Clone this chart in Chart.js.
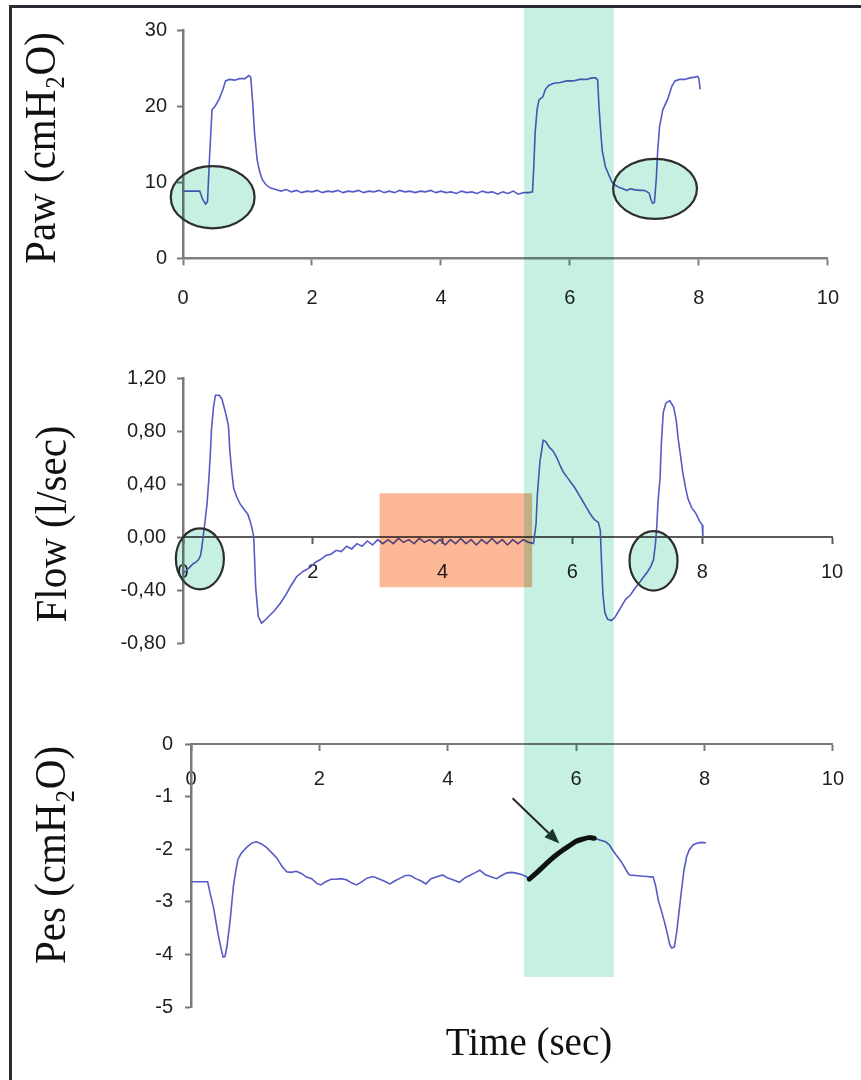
<!DOCTYPE html>
<html>
<head>
<meta charset="utf-8">
<title>Paw, Flow and Pes traces</title>
<script src="https://cdn.jsdelivr.net/npm/chart.js@4.4.1/dist/chart.umd.min.js"></script>
<style>
  html, body { margin: 0; padding: 0; background: #fff; }
  #page { position: relative; width: 861px; height: 1080px; overflow: hidden; background: #fff; }
  #page canvas { position: absolute; left: 0; top: 0; }
  #frame { position: absolute; left: 9px; top: 5px; right: -10px; bottom: -10px;
           border-left: 3px solid #2b2a36; border-top: 3px solid #2b2a36; }
</style>
</head>
<body>
<div id="page">
  <div id="frame"></div>
  <canvas id="pawChart" width="861" height="1080"></canvas>
  <canvas id="flowChart" width="861" height="1080"></canvas>
  <canvas id="pesChart" width="861" height="1080"></canvas>
</div>
<script>
// ---- tick values ----
const timeTicks = [0, 2, 4, 6, 8, 10];
const pawTicks = [0, 10, 20, 30];
const flowTicks = [-0.8, -0.4, 0, 0.4, 0.8, 1.2];
const pesTicks = [-5, -4, -3, -2, -1, 0];

// ---- airway pressure (cmH2O) ----
const pawTime = [
  0, 0.1, 0.2, 0.26, 0.3, 0.35, 0.38, 0.41, 0.45, 0.5,
  0.56, 0.62, 0.66, 0.72, 0.8, 0.88, 0.96, 1.02, 1.05, 1.08,
  1.11, 1.15, 1.19, 1.23, 1.29, 1.36, 1.44, 1.52, 1.6, 1.68,
  1.76, 1.84, 1.92, 2.0, 2.08, 2.16, 2.24, 2.32, 2.4, 2.48,
  2.56, 2.64, 2.72, 2.8, 2.88, 2.96, 3.04, 3.12, 3.2, 3.28,
  3.36, 3.44, 3.52, 3.6, 3.68, 3.76, 3.84, 3.92, 4.0, 4.08,
  4.16, 4.24, 4.32, 4.4, 4.48, 4.56, 4.64, 4.72, 4.8, 4.88,
  4.96, 5.04, 5.12, 5.2, 5.28, 5.36, 5.42, 5.44, 5.46, 5.49,
  5.52, 5.58, 5.62, 5.67, 5.75, 5.85, 5.95, 6.05, 6.15, 6.26,
  6.34, 6.4, 6.43, 6.45, 6.47, 6.5, 6.55, 6.6, 6.65, 6.7,
  6.76, 6.82, 6.88, 6.94, 7.0, 7.08, 7.15, 7.2, 7.23, 7.26,
  7.28, 7.31, 7.34, 7.36, 7.39, 7.44, 7.52, 7.58, 7.63, 7.7,
  7.78, 7.86, 7.94, 7.98, 8.0, 8.02
];
const pawValues = [
  8.8, 8.8, 8.8, 8.8, 7.8, 7.1, 7.4, 13.0, 19.5, 20.0,
  20.9, 22.2, 23.3, 23.5, 23.4, 23.6, 23.6, 24.0, 23.8, 20.5,
  16.4, 12.9, 11.3, 10.3, 9.6, 9.2, 9.0, 8.8, 9.0, 8.7,
  8.9, 8.6, 8.8, 8.7, 8.9, 8.6, 8.8, 8.7, 8.9, 8.6,
  8.8, 8.7, 8.9, 8.6, 8.8, 8.7, 8.9, 8.6, 8.8, 8.6,
  8.9, 8.7, 8.8, 8.6, 8.8, 8.7, 8.9, 8.6, 8.8, 8.6,
  8.7, 8.5, 8.8, 8.6, 8.7, 8.5, 8.8, 8.6, 8.7, 8.4,
  8.7, 8.5, 8.8, 8.4, 8.6, 8.6, 8.7, 12.0, 16.4, 19.5,
  20.8, 21.2, 22.2, 22.7, 23.0, 23.1, 23.3, 23.3, 23.5, 23.5,
  23.7, 23.7, 23.4, 20.0, 17.5, 14.2, 12.0, 11.0, 10.0, 9.6,
  9.3, 9.1, 8.9, 9.1, 9.0, 8.9, 8.9, 8.7, 8.5, 7.6,
  7.2, 7.3, 10.5, 14.0, 17.3, 19.5, 21.0, 22.6, 23.3, 23.5,
  23.5, 23.7, 23.8, 23.9, 23.6, 22.2
];

// ---- flow (l/sec) ----
const flowTime = [
  0, 0.04, 0.08, 0.12, 0.16, 0.2, 0.24, 0.27, 0.29, 0.31,
  0.34, 0.37, 0.4, 0.42, 0.44, 0.47, 0.5, 0.56, 0.6, 0.66,
  0.7, 0.72, 0.75, 0.78, 0.83, 0.88, 0.94, 1.0, 1.04, 1.07,
  1.09, 1.12, 1.16, 1.21, 1.26, 1.32, 1.4, 1.5, 1.58, 1.66,
  1.75, 1.85, 1.96, 2.04, 2.12, 2.2, 2.28, 2.36, 2.44, 2.52,
  2.6, 2.68, 2.76, 2.84, 2.92, 3.0, 3.08, 3.16, 3.24, 3.32,
  3.4, 3.48, 3.56, 3.64, 3.72, 3.8, 3.88, 3.96, 4.04, 4.12,
  4.2, 4.28, 4.36, 4.44, 4.52, 4.6, 4.68, 4.76, 4.84, 4.92,
  5.0, 5.08, 5.16, 5.24, 5.32, 5.4, 5.44, 5.46, 5.5, 5.55,
  5.59, 5.64, 5.7, 5.76, 5.81, 5.86, 5.92, 5.98, 6.04, 6.1,
  6.16, 6.22, 6.28, 6.34, 6.4, 6.43, 6.45, 6.47, 6.5, 6.54,
  6.6, 6.65, 6.7, 6.76, 6.82, 6.89, 6.96, 7.04, 7.1, 7.16,
  7.21, 7.25, 7.28, 7.3, 7.32, 7.35, 7.37, 7.4, 7.44, 7.5,
  7.56, 7.6, 7.63, 7.67, 7.7, 7.74, 7.78, 7.84, 7.9, 7.96,
  8.0, 8.01
];
const flowValues = [
  -0.27, -0.26, -0.24, -0.22, -0.2, -0.19, -0.17, -0.14, -0.08, 0.0,
  0.12, 0.25, 0.45, 0.62, 0.82, 0.98, 1.07, 1.07, 1.04, 0.93,
  0.84, 0.66, 0.5, 0.37, 0.3, 0.25, 0.21, 0.17, 0.11, 0.05,
  0.0, -0.38, -0.6, -0.65, -0.63, -0.6, -0.56, -0.5, -0.44, -0.37,
  -0.3, -0.26, -0.23, -0.19, -0.17, -0.14, -0.13, -0.1, -0.11, -0.07,
  -0.09, -0.05, -0.07, -0.03, -0.06, -0.02, -0.05, -0.02, -0.05, -0.01,
  -0.04, -0.02, -0.05, -0.01, -0.04, -0.02, -0.05, -0.02, -0.06, -0.02,
  -0.05, -0.01, -0.05, -0.02, -0.06, -0.02, -0.05, -0.01, -0.05, -0.02,
  -0.06, -0.02, -0.05, -0.02, -0.04, -0.05, 0.1, 0.32, 0.57, 0.73,
  0.72, 0.68, 0.65, 0.6, 0.54, 0.49, 0.45, 0.41, 0.37, 0.32,
  0.27, 0.22, 0.17, 0.13, 0.11, 0.05, -0.2, -0.43, -0.57, -0.62,
  -0.63, -0.61, -0.57, -0.52, -0.47, -0.44, -0.39, -0.34, -0.3, -0.26,
  -0.22, -0.17, -0.05, 0.08, 0.27, 0.44, 0.7, 0.94, 1.01, 1.03,
  0.98, 0.88, 0.74, 0.6, 0.49, 0.38, 0.29, 0.22, 0.18, 0.12,
  0.09, 0.0
];

// ---- oesophageal pressure (cmH2O) ----
const pesTime = [
  0, 0.1, 0.2, 0.26, 0.3, 0.35, 0.42, 0.47, 0.5, 0.53,
  0.56, 0.61, 0.66, 0.7, 0.73, 0.78, 0.87, 0.95, 1.02, 1.1,
  1.18, 1.26, 1.34, 1.42, 1.49, 1.56, 1.64, 1.72, 1.8, 1.88,
  1.96, 2.02, 2.1, 2.18, 2.26, 2.34, 2.42, 2.5, 2.58, 2.66,
  2.74, 2.84, 2.92, 3.0, 3.1, 3.18, 3.26, 3.34, 3.42, 3.5,
  3.58, 3.66, 3.74, 3.82, 3.92, 4.0, 4.08, 4.18, 4.26, 4.34,
  4.42, 4.5, 4.58, 4.66, 4.76, 4.84, 4.92, 5.0, 5.08, 5.15,
  5.22, 5.27, 5.4, 5.54, 5.67, 5.79, 5.9, 6.0, 6.1, 6.2,
  6.28, 6.38, 6.46, 6.52, 6.57, 6.63, 6.68, 6.72, 6.78, 6.83,
  6.92, 7.0, 7.1, 7.2, 7.24, 7.28, 7.34, 7.38, 7.42, 7.46,
  7.49, 7.53, 7.57, 7.6, 7.64, 7.68, 7.72, 7.76, 7.82, 7.87,
  7.95, 8.02
];
const pesValues = [
  -2.62, -2.62, -2.62, -2.62, -2.85, -3.1, -3.6, -3.9, -4.05, -4.04,
  -3.85, -3.35, -2.71, -2.4, -2.2, -2.08, -1.96, -1.88, -1.86, -1.9,
  -1.97, -2.07, -2.17, -2.33, -2.43, -2.44, -2.42, -2.46, -2.53, -2.56,
  -2.65, -2.68, -2.62, -2.57, -2.57, -2.56, -2.58, -2.64, -2.68, -2.62,
  -2.55, -2.52, -2.56, -2.6, -2.66, -2.6, -2.55, -2.5, -2.5, -2.56,
  -2.6, -2.66, -2.56, -2.53, -2.49, -2.55, -2.58, -2.63, -2.55, -2.5,
  -2.45, -2.4, -2.48, -2.52, -2.56, -2.5, -2.45, -2.44, -2.46, -2.48,
  -2.52, -2.57, -2.43, -2.27, -2.13, -2.02, -1.93, -1.85, -1.81, -1.78,
  -1.79, -1.83, -1.86, -1.92, -2.02, -2.12, -2.2, -2.27, -2.4, -2.49,
  -2.5, -2.51, -2.52, -2.53, -2.7, -2.97, -3.22, -3.4, -3.6, -3.82,
  -3.88, -3.86, -3.55, -3.22, -2.8, -2.4, -2.15, -2.02, -1.92, -1.89,
  -1.87, -1.88
];

// ---- annotation geometry, in each panel's own units ----
const inspBand = [5.29, 6.68];          // shaded breath, seconds (Paw time axis)
const inspBandFloor = -4.43;             // lower end of the shading on the Pes axis
const pesRiseWindow = [5.27, 6.28];      // Pes segment traced in bold
const pawMarks = [{ x: 0.46, y: 8.0, rx: 0.65, ry: 4.1 }, { x: 7.32, y: 9.1, rx: 0.65, ry: 3.95 }];
const flowMarks = [{ x: 0.26, y: -0.165, rx: 0.37, ry: 0.23 }, { x: 7.25, y: -0.18, rx: 0.37, ry: 0.225 }];
const flowQuietBox = { x0: 3.03, x1: 5.38, y0: -0.38, y1: 0.33 };
const pesArrow = { from: [5.01, -1.03], to: [5.74, -1.89] };

// ---- styling ----
const traceColor = '#565bc6';
const mint = 'rgb(198, 241, 226)';
const salmon = 'rgb(251, 183, 150)';
const tickFont = { family: "'Liberation Sans', Arial, sans-serif", size: 20 };
const tickColor = '#1e1e1e';
const captionFont = "41px 'Liberation Serif', 'Times New Roman', serif";

function trace(ts, vs) { return ts.map((t, i) => ({ x: t, y: vs[i] })); }
function fixedTicks(list) { return (scale) => { scale.ticks = list.map(v => ({ value: v })); }; }

function timeAxis(labelGap, color, width) {
  return {
    type: 'linear', min: 0, max: 10,
    position: { y: 0 },
    afterBuildTicks: fixedTicks(timeTicks),
    ticks: { font: tickFont, color: tickColor, padding: labelGap, maxRotation: 0, autoSkip: false,
             callback: v => String(v) },
    grid: { drawOnChartArea: false, drawTicks: true, tickLength: 6, tickWidth: 2, tickColor: color },
    border: { display: true, color: color, width: width }
  };
}

function valueAxis(min, max, list, boxWidth, labelGap, format) {
  return {
    type: 'linear', min: min, max: max, position: 'left',
    afterBuildTicks: fixedTicks(list),
    afterFit: (scale) => { scale.width = boxWidth; },
    ticks: { font: tickFont, color: tickColor, padding: labelGap, callback: format },
    grid: { drawOnChartArea: false, drawTicks: true, tickLength: 6, tickWidth: 2, tickColor: '#777' },
    border: { display: true, color: '#7a7a7a', width: 2.5 }
  };
}

// text captions placed beside each panel
function captions(items) {
  return {
    id: 'captions',
    afterDraw(chart) {
      const ctx = chart.ctx;
      items.forEach(c => {
        ctx.save();
        ctx.translate(c.x, c.y);
        if (c.stretch) ctx.scale(c.stretch, 1);
        ctx.rotate(c.rotation || 0);
        ctx.font = c.font || captionFont;
        ctx.fillStyle = '#111';
        ctx.textAlign = 'center';
        ctx.textBaseline = 'middle';
        ctx.fillText(c.text, 0, 0);
        ctx.restore();
      });
    }
  };
}

// tinted highlights are multiplied onto what lies beneath them
function tint(ctx, color, pathFn) {
  ctx.save();
  ctx.globalCompositeOperation = 'multiply';
  ctx.fillStyle = color;
  ctx.beginPath();
  pathFn();
  ctx.fill();
  ctx.restore();
}

function drawEllipses(chart, marks) {
  const ctx = chart.ctx, xs = chart.scales.x, ys = chart.scales.y;
  marks.forEach(m => {
    const cx = xs.getPixelForValue(m.x), cy = ys.getPixelForValue(m.y);
    const rx = Math.abs(xs.getPixelForValue(m.x + m.rx) - cx);
    const ry = Math.abs(ys.getPixelForValue(m.y + m.ry) - cy);
    tint(ctx, mint, () => ctx.ellipse(cx, cy, rx, ry, 0, 0, Math.PI * 2));
    ctx.save();
    ctx.beginPath();
    ctx.ellipse(cx, cy, rx, ry, 0, 0, Math.PI * 2);
    ctx.lineWidth = 2.2;
    ctx.strokeStyle = '#2e2e2e';
    ctx.stroke();
    ctx.restore();
  });
}

// the shaded breath runs down through all three panels; each panel tints its own slice
let bandScale = null;
function drawBandSlice(chart, yTop, yBottom) {
  const xs = bandScale || chart.scales.x;
  const x0 = xs.getPixelForValue(inspBand[0]), x1 = xs.getPixelForValue(inspBand[1]);
  tint(chart.ctx, mint, () => chart.ctx.rect(x0, yTop, x1 - x0, yBottom - yTop));
}

function baseOptions(padding) {
  return {
    responsive: false, animation: false, devicePixelRatio: 1,
    layout: { padding: padding },
    plugins: { legend: { display: false }, tooltip: { enabled: false } }
  };
}

function traceDataset(points) {
  return { data: points, borderColor: traceColor, borderWidth: 1.6, pointRadius: 0, tension: 0, fill: false };
}

// ---- Paw panel ----
const pawOpts = baseOptions({ left: 0, top: 30, right: 28, bottom: 822 });
pawOpts.scales = {
  x: timeAxis(22, '#808080', 2.5),
  y: valueAxis(0, 30, pawTicks, 183, 10, v => String(v))
};
const pawChart = new Chart(document.getElementById('pawChart'), {
  type: 'line',
  data: { datasets: [traceDataset(trace(pawTime, pawValues))] },
  options: pawOpts,
  plugins: [
    {
      id: 'pawMarks',
      afterLayout(chart) { bandScale = chart.scales.x; },
      afterDraw(chart) {
        drawEllipses(chart, pawMarks);
        drawBandSlice(chart, 8, 330);
      }
    },
    captions([{ text: 'Paw (cmH\u2082O)', x: 43, y: 148, rotation: -Math.PI / 2, stretch: 1.1 }])
  ]
});

// ---- Flow panel ----
const flowOpts = baseOptions({ left: 0, top: 378, right: 29, bottom: 437 });
flowOpts.scales = {
  x: timeAxis(17, '#5a5a5a', 2),
  y: valueAxis(-0.8, 1.2, flowTicks, 183, 11, v => v.toFixed(2).replace('.', ','))
};
const flowChart = new Chart(document.getElementById('flowChart'), {
  type: 'line',
  data: { datasets: [traceDataset(trace(flowTime, flowValues))] },
  options: flowOpts,
  plugins: [
    {
      id: 'flowMarks',
      afterDraw(chart) {
        const ctx = chart.ctx, xs = chart.scales.x, ys = chart.scales.y;
        const b = flowQuietBox;
        const x0 = xs.getPixelForValue(b.x0), x1 = xs.getPixelForValue(b.x1);
        const y0 = ys.getPixelForValue(b.y1), y1 = ys.getPixelForValue(b.y0);
        tint(ctx, salmon, () => ctx.rect(x0, y0, x1 - x0, y1 - y0));
        drawEllipses(chart, flowMarks);
        drawBandSlice(chart, 330, 700);
      }
    },
    captions([{ text: 'Flow (l/sec)', x: 54, y: 524, rotation: -Math.PI / 2, stretch: 1.1 }])
  ]
});

// ---- Pes panel ----
const pesOpts = baseOptions({ left: 0, top: 744, right: 27, bottom: 73 });
pesOpts.scales = {
  x: timeAxis(17, '#7a7a7a', 2),
  y: valueAxis(-5, 0, pesTicks, 191, 12, v => String(v))
};
const risePoints = trace(pesTime, pesValues)
  .filter(p => p.x >= pesRiseWindow[0] && p.x <= pesRiseWindow[1]);

const pesChart = new Chart(document.getElementById('pesChart'), {
  type: 'line',
  data: {
    datasets: [
      Object.assign(traceDataset(trace(pesTime, pesValues)), { order: 1 }),
      // bold overlay on the rising part of the breath, drawn above the thin trace
      { data: risePoints, order: 0, borderColor: '#111', borderWidth: 5, borderCapStyle: 'round',
        borderJoinStyle: 'round', pointRadius: 0, tension: 0.3, fill: false }
    ]
  },
  options: pesOpts,
  plugins: [
    {
      id: 'pesArrow',
      afterDatasetsDraw(chart) {
        const ctx = chart.ctx, xs = chart.scales.x, ys = chart.scales.y;
        const x0 = xs.getPixelForValue(pesArrow.from[0]), y0 = ys.getPixelForValue(pesArrow.from[1]);
        const x1 = xs.getPixelForValue(pesArrow.to[0]), y1 = ys.getPixelForValue(pesArrow.to[1]);
        const ang = Math.atan2(y1 - y0, x1 - x0);
        const head = 15, half = 6;
        const bx = x1 - head * Math.cos(ang), by = y1 - head * Math.sin(ang);
        ctx.save();
        ctx.strokeStyle = '#2a2a2a';
        ctx.fillStyle = '#1f3b32';
        ctx.lineWidth = 2;
        ctx.beginPath();
        ctx.moveTo(x0, y0);
        ctx.lineTo(bx, by);
        ctx.stroke();
        ctx.beginPath();
        ctx.moveTo(x1, y1);
        ctx.lineTo(bx + half * Math.sin(ang), by - half * Math.cos(ang));
        ctx.lineTo(bx - half * Math.sin(ang), by + half * Math.cos(ang));
        ctx.closePath();
        ctx.fill();
        ctx.restore();
      },
      afterDraw(chart) {
        drawBandSlice(chart, 700, chart.scales.y.getPixelForValue(inspBandFloor));
      }
    },
    captions([
      { text: 'Pes (cmH\u2082O)', x: 53, y: 855, rotation: -Math.PI / 2, stretch: 1.1 },
      { text: 'Time (sec)', x: 529, y: 1045, font: "39px 'Liberation Serif', 'Times New Roman', serif" }
    ])
  ]
});
</script>
</body>
</html>
